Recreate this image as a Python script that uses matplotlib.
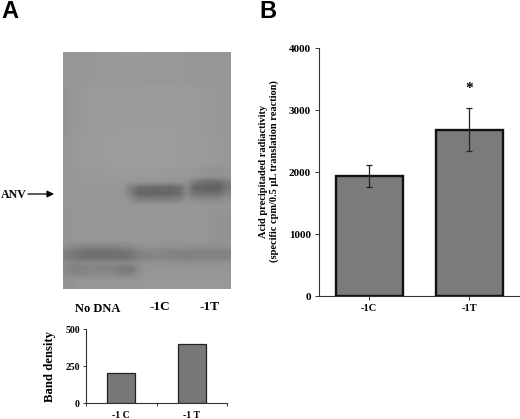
import numpy as np
import matplotlib
matplotlib.use("Agg")
import matplotlib.pyplot as plt

W, H = 520, 419
SERIF = ["Liberation Serif", "DejaVu Serif"]
SANS = ["Liberation Sans", "DejaVu Sans"]

# Panel B
b_labels = ["-1C", "-1T"]
b_values = [1940, 2690]
b_errors = [185, 345]
b_ticks = [0, 1000, 2000, 3000, 4000]
# Panel A, density
a_labels = ["-1 C", "-1 T"]
a_values = [200, 400]
a_ticks = [0, 250, 500]
lane_labels = ["No DNA", "-1C", "-1T"]

# Blot appearance: grey levels, with each row's height in blocks
blot_rows = np.array([
 [150,150,151,151,152,152,152,153,153,153,152,152,152,152,152,151,151,150,150,150,150],
 [148,151,153,154,155,155,155,156,156,156,156,156,156,156,155,155,154,153,152,151,150],
 [149,152,154,155,156,156,157,158,158,158,158,158,158,157,156,155,155,154,153,152,151],
 [150,151,152,153,153,154,154,154,154,154,154,154,153,153,152,152,150,148,146,146,148],
 [150,151,152,152,152,152,152,152,150,148,148,147,146,146,146,146,122,112,110,112,124],
 [150,150,151,151,151,151,151,150,126,108,106,104,106,104,110,134,102, 98, 96, 98,118],
 [150,150,150,150,150,150,150,150,128,104,102,102,104,102,108,136,116,114,112,114,130],
 [150,150,150,150,150,150,150,150,142,128,126,124,126,126,130,144,140,138,136,138,144],
 [149,150,150,150,150,151,151,151,150,150,150,150,150,150,150,150,150,150,149,149,149],
 [149,150,150,151,151,151,151,151,151,151,151,151,151,150,150,150,150,150,149,148,148],
 [144,138,136,136,136,136,136,138,140,146,147,147,146,146,146,145,145,144,144,144,144],
 [130,120,116,114,114,114,114,116,120,130,134,136,134,132,132,130,130,130,130,130,132],
 [126,118,112,110,110,110,110,112,116,128,130,132,132,130,130,128,128,130,130,130,132],
 [138,134,136,136,136,136,136,136,138,144,146,146,146,144,144,144,144,144,144,144,146],
 [136,128,130,134,132,130,128,120,118,140,148,150,150,150,150,148,148,148,148,148,148],
 [138,134,136,138,138,138,136,130,132,144,150,150,150,150,150,150,150,150,150,150,150],
 [148,148,150,150,150,150,150,150,150,150,152,152,152,152,152,152,152,152,152,152,152],
], dtype=float)
blot_heights = [6, 8, 6, 2, 1, 1, 1, 1, 2, 5, 1, 1, 1, 1, 1, 1, 2]

fig = plt.figure(figsize=(W / 100, H / 100), dpi=100)
fig.patch.set_facecolor("white")

def axes_px(x0, y0, x1, y1):
    return fig.add_axes([x0 / W, 1 - y1 / H, (x1 - x0) / W, (y1 - y0) / H])

# Blot
ax_blot = axes_px(63, 52, 230, 289)
ax_blot.imshow(np.repeat(blot_rows, blot_heights, axis=0), cmap="gray", vmin=0, vmax=255,
               aspect="auto", interpolation="bilinear")
ax_blot.axis("off")

# Density bars
ax_a = axes_px(86, 329, 227, 403)
ax_a.bar(range(2), a_values, width=0.4, color="#777777", edgecolor="#222222", linewidth=0.9)
ax_a.set_xlim(-0.5, 1.5)
ax_a.set_ylim(0, 500)
ax_a.set_yticks(a_ticks)
ax_a.set_yticklabels([str(t) for t in a_ticks], family=SERIF, fontsize=7, fontweight="bold")
ax_a.set_xticks([-0.5, 0.5, 1.5])
ax_a.set_xticklabels([])
ax_a.tick_params(length=2.5, width=0.7, pad=2, color="#333333")
ax_a.set_ylabel("Band density", family=SERIF, fontsize=9.2, fontweight="bold")
ax_a.yaxis.set_label_coords(-30 / 141, 0.5)
for i, lab in enumerate(a_labels):
    ax_a.annotate(lab, (i, 0), xytext=(0, -9), textcoords="offset points", ha="center", va="center",
                  family=SERIF, fontsize=7, fontweight="bold")
for s in ("top", "right"):
    ax_a.spines[s].set_visible(False)
for s in ("left", "bottom"):
    ax_a.spines[s].set_linewidth(0.8)
    ax_a.spines[s].set_color("#333333")

# Radioactivity bars
ax_b = axes_px(319, 48.5, 519, 296)
ax_b.bar(range(2), b_values, width=0.67, color="#7b7b7b", edgecolor="#111111", linewidth=1.7)
ax_b.errorbar(range(2), b_values, yerr=b_errors, fmt="none", ecolor="#222222", elinewidth=0.9, capsize=2.3, capthick=0.9)
ax_b.set_xlim(-0.5, 1.5)
ax_b.set_ylim(0, 4000)
ax_b.set_yticks(b_ticks)
ax_b.set_yticklabels([str(t) for t in b_ticks], family=SERIF, fontsize=8, fontweight="bold")
ax_b.set_xticks(range(2))
ax_b.set_xticklabels(b_labels, family=SERIF, fontsize=7.5, fontweight="bold")
ax_b.tick_params(length=3, width=0.7, pad=3, color="#333333")
ax_b.tick_params(axis="x", pad=2.5)
ax_b.set_ylabel("Acid precipitaded radiactivity\n(specific cpm/0.5 µL translation reaction)",
                family=SERIF, fontsize=7.5, fontweight="bold", linespacing=1.15)
ax_b.yaxis.set_label_coords(-40 / 200, 0.505)
ax_b.annotate("*", (1, b_values[1] + b_errors[1]), xytext=(0, 14), textcoords="offset points",
              ha="center", va="center", family=SERIF, fontsize=11, fontweight="bold")
for s in ("top", "right"):
    ax_b.spines[s].set_visible(False)
for s in ("left", "bottom"):
    ax_b.spines[s].set_linewidth(0.8)
    ax_b.spines[s].set_color("#333333")

def px_text(x, y, s, **kw):
    fig.text(x / W, 1 - y / H, s, **kw)

px_text(1, 11, "A", family=SANS, fontsize=17, fontweight="bold", ha="left", va="center")
px_text(259, 11, "B", family=SANS, fontsize=17, fontweight="bold", ha="left", va="center")

for x, y, lab, fs in zip([98, 160, 210], [309, 307, 307], lane_labels, [9, 9.5, 9.5]):
    px_text(x, y, lab, family=SERIF, fontsize=fs, fontweight="bold", ha="center", va="center")

px_text(1, 195, "ANV", family=SERIF, fontsize=8.6, fontweight="bold", ha="left", va="center")
fig.add_artist(matplotlib.patches.FancyArrowPatch(
    (28 / W, 1 - 194 / H), (54 / W, 1 - 194 / H), transform=fig.transFigure,
    arrowstyle="-|>", mutation_scale=10, color="black", linewidth=0.9, shrinkA=0, shrinkB=0))

fig.savefig("out.png", dpi=100, facecolor="white")
